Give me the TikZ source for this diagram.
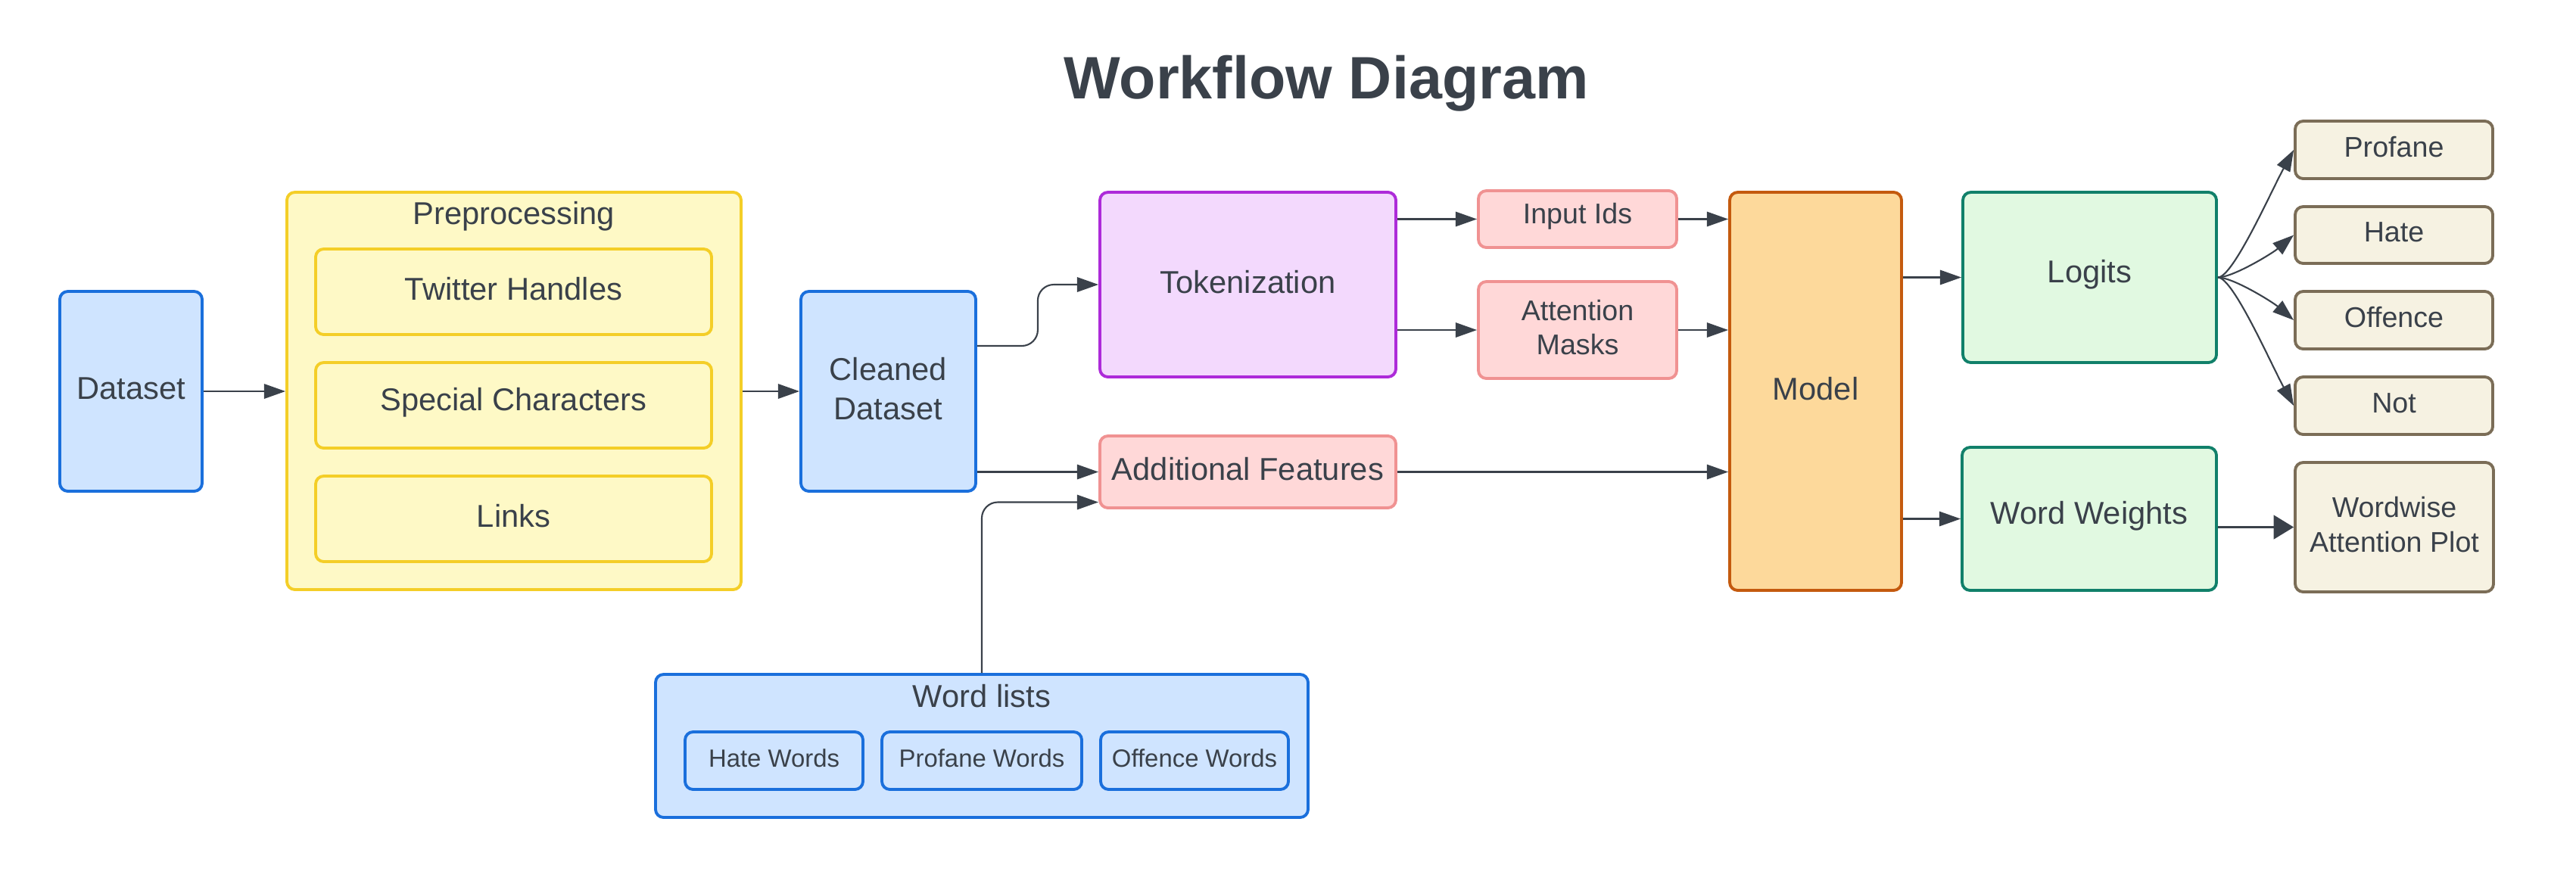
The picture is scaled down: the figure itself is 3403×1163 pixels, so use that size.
\documentclass[tikz,border=0pt]{standalone}
\usepackage{fontspec}
\setmainfont{Liberation Sans}
\usetikzlibrary{arrows.meta,fit,calc}
\definecolor{txt}{HTML}{3A414A}
\definecolor{bluefill}{HTML}{CFE4FF}
\definecolor{blueline}{HTML}{1A6FDC}
\definecolor{yelfill}{HTML}{FEF9C6}
\definecolor{yelline}{HTML}{F4CE27}
\definecolor{purfill}{HTML}{F3D9FD}
\definecolor{purline}{HTML}{AD2BD9}
\definecolor{redfill}{HTML}{FFD8D8}
\definecolor{redline}{HTML}{F09292}
\definecolor{orafill}{HTML}{FDD99B}
\definecolor{oraline}{HTML}{C45A0E}
\definecolor{grefill}{HTML}{E1F9E1}
\definecolor{greline}{HTML}{11806A}
\definecolor{beifill}{HTML}{F6F2E2}
\definecolor{beiline}{HTML}{7B6D57}
\tikzset{
  x=0.01cm, y=-0.01cm,
  box/.style={draw, line width=1.1pt, rounded corners=3pt, inner sep=0pt},
  tx/.style={text=txt, align=center, inner sep=0pt, yshift=1pt, font=\fontsize{11.85}{14.6}\selectfont},
  txs/.style={tx, font=\fontsize{10.7}{12.9}\selectfont},
  txt/.style={tx, font=\fontsize{9.35}{11.2}\selectfont},
  bluebox/.style={box, fill=bluefill, draw=blueline},
  yelbox/.style={box, fill=yelfill, draw=yelline},
  purbox/.style={box, fill=purfill, draw=purline},
  redbox/.style={box, fill=redfill, draw=redline},
  orabox/.style={box, fill=orafill, draw=oraline},
  grebox/.style={box, fill=grefill, draw=greline},
  beibox/.style={box, fill=beifill, draw=beiline},
  arr/.style={draw=txt, line width=0.6pt, -{Triangle[length=8pt,width=5.5pt]}},
  bigarr/.style={draw=txt, line width=0.6pt, -{Triangle[length=7.5pt,width=9pt]}},
  lbl/.style={text=txt, inner sep=0pt, anchor=base, font=\fontsize{11.85}{14.6}\selectfont},
}
\begin{document}
\begin{tikzpicture}
\useasboundingbox (0,0) rectangle (3403,1163);
\node[text=txt, inner sep=0pt, anchor=base, font=\fontsize{22.5}{26}\selectfont\bfseries] (title) at (1752,130) {Workflow Diagram};

% left part
\node[bluebox, fit={(79,385) (267,649)}, label={[tx]center:Dataset}] (ds) {};
\node[yelbox, fit={(379,254) (979,779)}] (pre) {};
\node[lbl] (prel) at (679,296) {Preprocessing};
\node[yelbox, fit={(417,329) (940,442)}, label={[tx]center:Twitter Handles}] (th) {};
\node[yelbox, fit={(417,479) (940,592)}, label={[tx]center:Special Characters}] (sc) {};
\node[yelbox, fit={(417,629) (940,742)}, label={[tx]center:Links}] (ln) {};
\node[bluebox, fit={(1058,385) (1289,649)}, label={[tx]center:Cleaned\\Dataset}] (cd) {};

% middle
\node[purbox, fit={(1453,254) (1844,498)}, label={[tx]center:Tokenization}] (tok) {};
\node[redbox, fit={(1953,252) (2215,327)}, label={[txs]center:Input Ids}] (ii) {};
\node[redbox, fit={(1953,372) (2215,500)}, label={[txs]center:Attention\\Masks}] (am) {};
\node[redbox, fit={(1453,576) (1844,671)}, label={[tx]center:Additional Features}] (af) {};

% word lists
\node[bluebox, fit={(866,891) (1728,1080)}] (wl) {};
\node[lbl] (wll) at (1297,934) {Word lists};
\node[bluebox, fit={(905,967) (1140,1043)}, label={[txt]center:Hate Words}] (hw) {};
\node[bluebox, fit={(1165,967) (1429,1043)}, label={[txt]center:Profane Words}] (pw) {};
\node[bluebox, fit={(1454,967) (1702,1043)}, label={[txt]center:Offence Words}] (ow) {};

% right part
\node[orabox, fit={(2285,254) (2512,780)}, label={[tx]center:Model}] (mod) {};
\node[grebox, fit={(2593,254) (2928,479)}, label={[tx]center:Logits}] (lg) {};
\node[grebox, fit={(2592,591) (2928,780)}, label={[tx]center:Word Weights}] (ww) {};
\node[beibox, fit={(3032,160) (3293,236)}, label={[txs]center:Profane}] (pr) {};
\node[beibox, fit={(3032,273) (3293,348)}, label={[txs]center:Hate}] (ha) {};
\node[beibox, fit={(3032,385) (3293,461)}, label={[txs]center:Offence}] (of) {};
\node[beibox, fit={(3032,498) (3293,574)}, label={[txs]center:Not}] (no) {};
\node[beibox, fit={(3032,611) (3294,782)}, label={[txs]center:Wordwise\\Attention Plot}] (wa) {};

% connectors
\draw[arr] (ds.east) -- (ds.east -| pre.west);
\draw[arr] (cd.west -| pre.east) -- (cd.west);
\draw[arr, rounded corners=6pt] ($(cd.east)+(0,-60)$) -- ++(80,0) |- (tok.west);
\draw[arr] (cd.east |- af.west) -- (af.west);
\draw[arr, rounded corners=6pt] (wl.north) |- ($(af.west)+(0,40)$);
\draw[arr] (tok.east |- ii.west) -- (ii.west);
\draw[arr] (tok.east |- am.west) -- (am.west);
\draw[arr] (ii.east) -- (ii.east -| mod.west);
\draw[arr] (am.east) -- (am.east -| mod.west);
\draw[arr] (af.east) -- (af.east -| mod.west);
\draw[arr] (mod.east |- lg.west) -- (lg.west);
\draw[arr] (mod.east |- ww.west) -- (ww.west);
\draw[bigarr] (wa.west -| ww.east) -- (wa.west);
\draw[arr] (lg.east) .. controls +(20,0) and +(-30,55) .. (pr.west);
\draw[arr] (lg.east) .. controls +(20,0) and +(-28,24) .. (ha.west);
\draw[arr] (lg.east) .. controls +(20,0) and +(-28,-24) .. (of.west);
\draw[arr] (lg.east) .. controls +(20,0) and +(-30,-55) .. (no.west);
\end{tikzpicture}
\end{document}
